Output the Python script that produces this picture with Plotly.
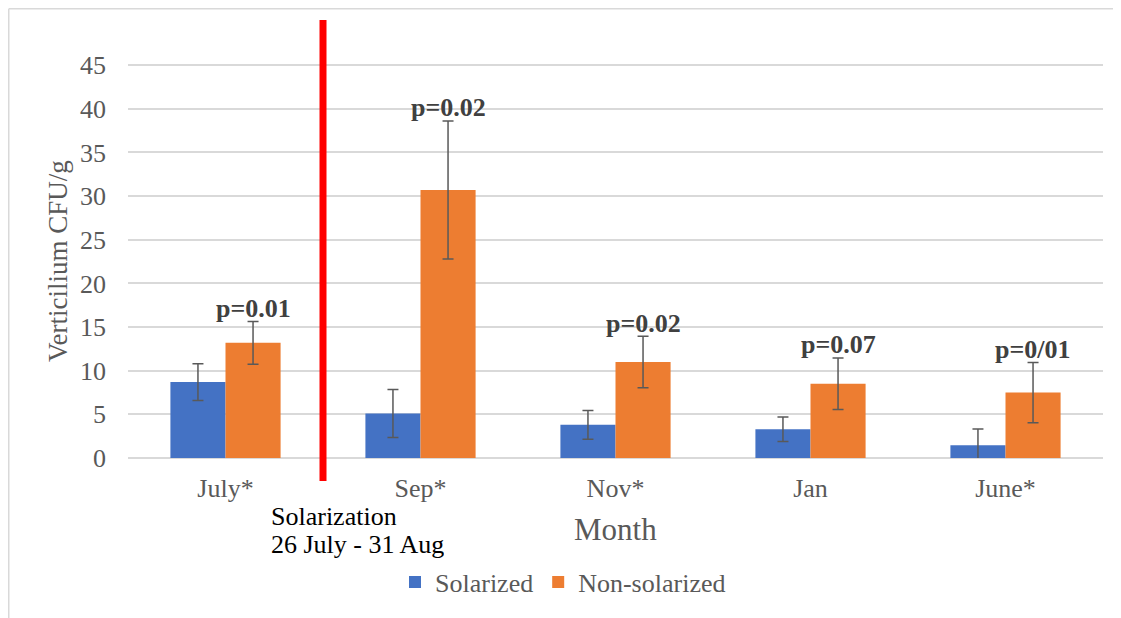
import plotly.graph_objects as go

months = ["July*", "Sep*", "Nov*", "Jan", "June*"]
solarized = [8.7, 5.1, 3.8, 3.3, 1.45]
solarized_err = [2.1, 2.75, 1.65, 1.4, 1.87]
non_solarized = [13.2, 30.7, 11.0, 8.5, 7.5]
non_solarized_err = [2.45, 7.9, 2.95, 2.95, 3.45]
p_values = ["p=0.01", "p=0.02", "p=0.02", "p=0.07", "p=0/01"]
y_ticks = [0, 5, 10, 15, 20, 25, 30, 35, 40, 45]

SERIF = "Liberation Serif, Times New Roman, serif"
GREY = "#595959"

# page has an 8px body margin: figure is sized so that it fills the window exactly
W, H = 1113, 610
L, R, T, B = 120, 18, 31, 160
PH = H - T - B          # plot height in px
PW = W - L - R          # plot width in px
BOTTOM = T + PH         # pixel row of y=0


def py(px_row):
    """paper y for a figure pixel row"""
    return (BOTTOM - px_row) / PH


def pxp(px_col):
    """paper x for a figure pixel column"""
    return (px_col - L) / PW


fig = go.Figure()
fig.add_trace(go.Bar(
    x=months, y=solarized, name="Solarized",
    marker=dict(color="#4472C4", line=dict(width=0)),
    error_y=dict(type="data", array=solarized_err, color=GREY, thickness=1.5, width=5.5),
))
fig.add_trace(go.Bar(
    x=months, y=non_solarized, name="Non-solarized",
    marker=dict(color="#ED7D31", line=dict(width=0)),
    error_y=dict(type="data", array=non_solarized_err, color=GREY, thickness=1.5, width=5.5),
))

# p-value labels above the non-solarized bars
for i, (v, e, p) in enumerate(zip(non_solarized, non_solarized_err, p_values)):
    fig.add_annotation(
        x=i + 0.141, y=v + e + 1.5, xref="x", yref="y", text=f"<b>{p}</b>",
        showarrow=False, xanchor="center", yanchor="middle",
        font=dict(family=SERIF, size=26, color="#404040"),
    )

# solarization period marker
fig.add_shape(type="line", xref="x", yref="paper", x0=0.5, x1=0.5,
              y0=py(473), y1=py(12), line=dict(color="#FF0000", width=7))

fig.add_annotation(xref="paper", yref="paper", x=pxp(261), y=py(509),
                   text="Solarization", showarrow=False, xanchor="left", yanchor="middle",
                   height=27, font=dict(family=SERIF, size=26, color="#000000"))
fig.add_annotation(xref="paper", yref="paper", x=pxp(261), y=py(536),
                   text="26 July - 31 Aug", showarrow=False, xanchor="left", yanchor="middle",
                   height=27, font=dict(family=SERIF, size=26, color="#000000"))

# axis titles
fig.add_annotation(xref="paper", yref="paper", x=pxp(50), y=py(253),
                   text="Verticilium CFU/g", textangle=-90, showarrow=False,
                   xanchor="center", yanchor="middle",
                   font=dict(family=SERIF, size=27, color=GREY))
fig.add_annotation(xref="paper", yref="paper", x=0.5, y=py(521),
                   text="Month", showarrow=False, xanchor="center", yanchor="middle",
                   font=dict(family=SERIF, size=31, color=GREY))

# chart-area border (top and left edges visible)
fig.add_shape(type="line", xref="paper", yref="paper", x0=pxp(0.75), x1=pxp(W + 5),
              y0=py(0.75), y1=py(0.75), line=dict(color="#D9D9D9", width=1.5))
fig.add_shape(type="line", xref="paper", yref="paper", x0=pxp(0.75), x1=pxp(0.75),
              y0=py(H + 5), y1=py(0.75), line=dict(color="#D9D9D9", width=1.5))

fig.update_layout(
    width=W, height=H,
    margin=dict(l=L, r=R, t=T, b=B),
    paper_bgcolor="white", plot_bgcolor="white",
    barmode="group", bargap=0.435, bargroupgap=0,
    showlegend=True,
    legend=dict(orientation="h", x=pxp(555), y=py(574), xanchor="center", yanchor="middle",
                font=dict(family=SERIF, size=26, color=GREY), itemwidth=30,
                bgcolor="rgba(0,0,0,0)"),
    xaxis=dict(showgrid=False, showline=False, zeroline=False, ticks="",
               tickfont=dict(family=SERIF, size=26, color=GREY), ticklabelstandoff=12),
    yaxis=dict(range=[0, 48], tickvals=y_ticks, showgrid=True, gridcolor="#D9D9D9",
               gridwidth=1.5, zeroline=True, zerolinecolor="#D9D9D9", zerolinewidth=1.5,
               showline=False, ticks="",
               tickfont=dict(family=SERIF, size=26, color=GREY), ticklabelstandoff=21),
)

fig.write_html("out.html")
